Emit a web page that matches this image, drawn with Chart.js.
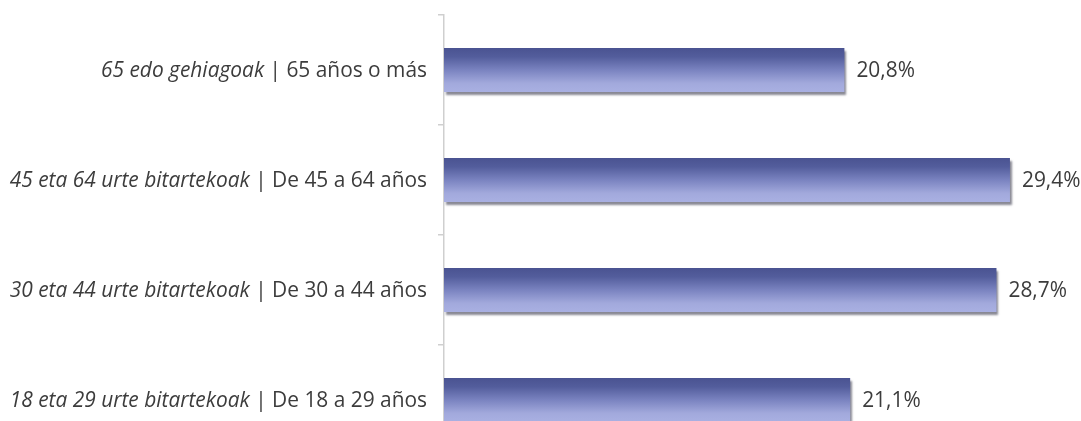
<!DOCTYPE html>
<html>
<head>
<meta charset="utf-8">
<script src="https://cdn.jsdelivr.net/npm/chart.js@4"></script>
<style>
html,body{margin:0;padding:0;background:#fff;overflow:hidden;}
canvas{display:block;}
</style>
</head>
<body>
<canvas id="c" width="1081" height="460"></canvas>
<script>
const basqueLabels = ['65 edo gehiagoak', '45 eta 64 urte bitartekoak', '30 eta 44 urte bitartekoak', '18 eta 29 urte bitartekoak'];
const spanishLabels = ['65 años o más', 'De 45 a 64 años', 'De 30 a 44 años', 'De 18 a 29 años'];
const categories = basqueLabels.map((b, i) => b + ' | ' + spanishLabels[i]);
const values = [20.8, 29.4, 28.7, 21.1];

const FONT_FAMILY = '"Open Sans", "Noto Sans", sans-serif';
const FONT_SIZE = 20.9;
const TEXT_COLOR = '#3c3c3c';

const shadowPlugin = {
  id: 'barShadow',
  beforeDatasetsDraw(chart) {
    const ctx = chart.ctx;
    ctx.save();
    ctx.shadowColor = 'rgba(40,40,60,0.55)';
    ctx.shadowOffsetX = 2;
    ctx.shadowOffsetY = 3;
    ctx.shadowBlur = 2;
  },
  afterDatasetsDraw(chart) {
    chart.ctx.restore();
  }
};

const labelPlugin = {
  id: 'labels',
  afterDraw(chart) {
    const ctx = chart.ctx;
    const yScale = chart.scales.y;
    const left = chart.chartArea.left;
    ctx.save();
    ctx.fillStyle = TEXT_COLOR;
    ctx.textBaseline = 'middle';
    categories.forEach((_, i) => {
      const y = yScale.getPixelForTick(i) + 1;
      const xRight = left - 17;
      ctx.textAlign = 'right';
      ctx.font = FONT_SIZE + 'px ' + FONT_FAMILY;
      const normal = ' | ' + spanishLabels[i];
      ctx.fillText(normal, xRight, y);
      const w = ctx.measureText(normal).width;
      ctx.font = 'italic ' + FONT_SIZE + 'px ' + FONT_FAMILY;
      ctx.fillText(basqueLabels[i], xRight - w, y);
    });
    const meta = chart.getDatasetMeta(0);
    ctx.font = FONT_SIZE + 'px ' + FONT_FAMILY;
    ctx.textAlign = 'left';
    meta.data.forEach((bar, i) => {
      const txt = values[i].toFixed(1).replace('.', ',') + '%';
      ctx.fillText(txt, bar.x + 12, bar.y + 1);
    });
    ctx.restore();
  }
};

function barGradient(context) {
  const chart = context.chart;
  if (!chart.chartArea || !chart.scales.y) return '#6f78b8';
  const yScale = chart.scales.y;
  const yc = yScale.getPixelForValue(context.dataIndex);
  const band = Math.abs(yScale.getPixelForValue(1) - yScale.getPixelForValue(0)) || 110;
  const h = band * 0.4;
  const g = chart.ctx.createLinearGradient(0, yc - h / 2, 0, yc + h / 2);
  g.addColorStop(0, '#4a5391');
  g.addColorStop(0.2, '#535d9c');
  g.addColorStop(0.5, '#7a83c0');
  g.addColorStop(0.8, '#a2a9dc');
  g.addColorStop(1, '#a9b0e2');
  return g;
}

new Chart(document.getElementById('c'), {
  type: 'bar',
  data: {
    labels: categories,
    datasets: [{
      data: values,
      backgroundColor: barGradient,
      borderWidth: 0,
      categoryPercentage: 1,
      barPercentage: 0.4
    }]
  },
  options: {
    indexAxis: 'y',
    responsive: false,
    animation: false,
    layout: { padding: { left: 438, right: 21, top: 15, bottom: 5 } },
    plugins: { legend: { display: false }, tooltip: { enabled: false } },
    scales: {
      x: { display: false, min: 0, max: 32 },
      y: {
        display: true,
        grid: { offset: true, drawOnChartArea: false, drawTicks: true, tickLength: 6, color: '#cfcfcf', lineWidth: 1.5 },
        border: { display: true, color: '#cfcfcf', width: 1.5 },
        ticks: { display: false }
      }
    }
  },
  plugins: [shadowPlugin, labelPlugin]
});
</script>
</body>
</html>
